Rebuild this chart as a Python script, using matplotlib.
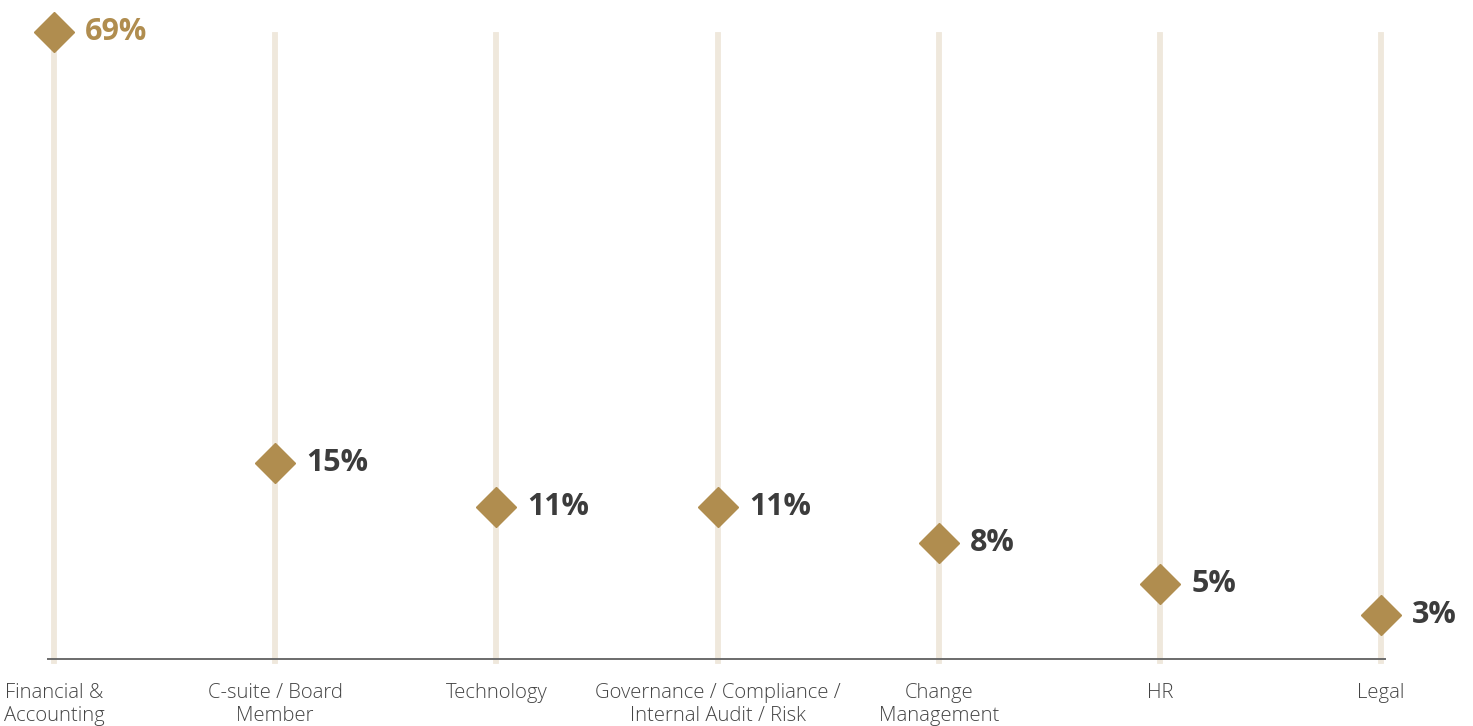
import matplotlib.pyplot as plt
import numpy as np

# Share of respondents by functional background
categories = ["Financial &\nAccounting", "C-suite / Board\nMember", "Technology",
              "Governance / Compliance /\nInternal Audit / Risk", "Change\nManagement",
              "HR", "Legal"]
values = [69, 15, 11, 11, 8, 5, 3]

GOLD = "#B08D4F"
DARK = "#3C3C3C"
STEM = "#EFE8DC"

plt.rcParams['font.family'] = ['Open Sans', 'DejaVu Sans']

fig = plt.figure(figsize=(14.73, 7.26), dpi=100)
ax = fig.add_axes([0.0326, 0.0923, 0.9077, 0.8595])

x = np.arange(len(categories))

# the original infographic compresses the high values, a power scale gets close
power = 0.7
ax.set_yscale('function', functions=(lambda v: np.sign(v) * np.abs(v) ** power,
                                     lambda v: np.sign(v) * np.abs(v) ** (1 / power)))
ax.set_ylim(0.81, 68.5)
ax.set_xlim(-0.027, 6.018)

# vertical stems spanning the full height
for xi in x:
    ax.axvline(xi, ymin=-0.004, ymax=1, color=STEM, lw=4.2, zorder=1, clip_on=False)

ax.plot(x, values, linestyle='none', marker='D', markersize=20.5,
        color=GOLD, zorder=3, clip_on=False)

for i, v in enumerate(values):
    ax.annotate(f"{v}%", (x[i], v), xytext=(22.5, 0), textcoords='offset points',
                ha='left', va='center', fontsize=22, fontweight='bold',
                color=GOLD if i == 0 else DARK, annotation_clip=False)

for side in ['top', 'right', 'left']:
    ax.spines[side].set_visible(False)
ax.spines['bottom'].set_color('#6B6B6B')
ax.spines['bottom'].set_linewidth(1.4)
ax.spines['bottom'].set_zorder(2)

ax.set_yticks([])
ax.set_yticks([], minor=True)
ax.set_xticks(x)
ax.set_xticklabels(categories, fontsize=14.6, fontweight='light', color='#444444',
                   linespacing=1.2)
ax.tick_params(axis='x', length=0, pad=17)

fig.savefig("out.png", dpi=100)
